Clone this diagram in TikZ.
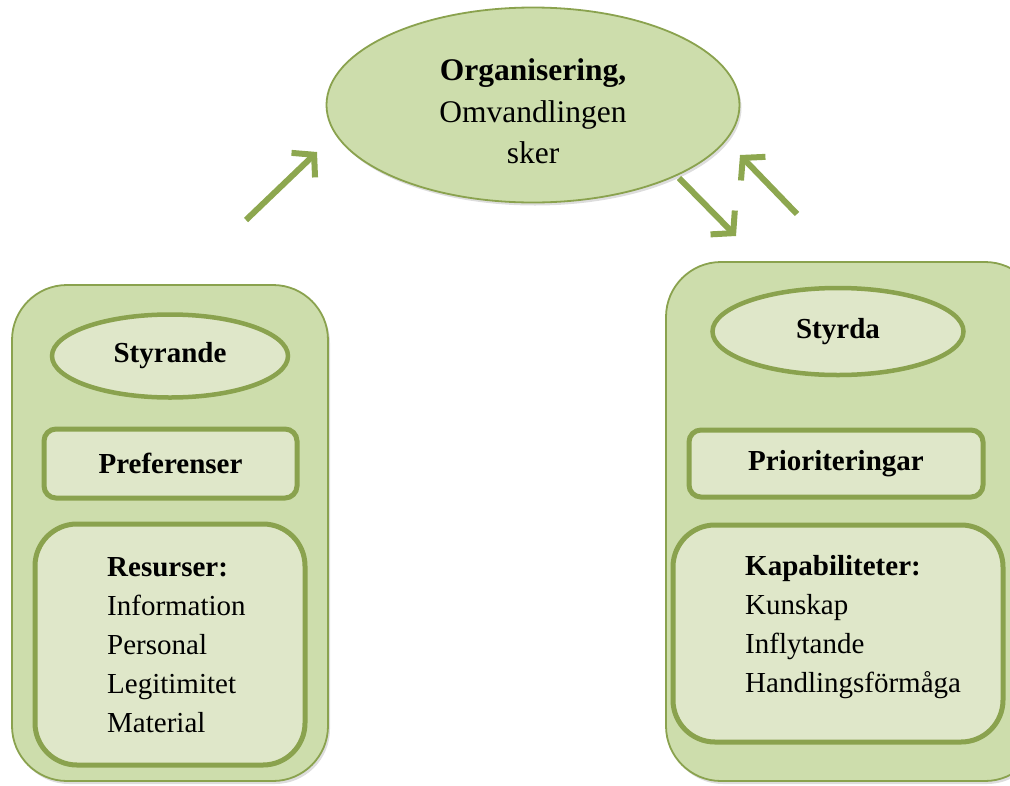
\documentclass[tikz,border=0pt]{standalone}
\usepackage{fontspec}
\setmainfont{Liberation Serif}
\usetikzlibrary{shapes.geometric,arrows.meta,shadows}
\definecolor{outerfill}{HTML}{CDDDAC}
\definecolor{innerfill}{HTML}{DFE7C9}
\definecolor{edgegreen}{HTML}{8AA24E}
\definecolor{arrowgreen}{HTML}{8DA74F}
\tikzset{
  softshadow/.style={drop shadow={shadow xshift=2pt, shadow yshift=-3pt, opacity=0.22, fill=black!60}},
  outerbox/.style={draw=edgegreen, line width=1.8pt, fill=outerfill, rounded corners=55pt, inner sep=0pt, softshadow},
  ellnode/.style={ellipse, draw=edgegreen, fill=innerfill, line width=4.5pt, inner sep=0pt},
  rectnode/.style={draw=edgegreen, fill=innerfill, line width=5pt, rounded corners=12pt, inner sep=0pt},
  listbox/.style={draw=edgegreen, fill=innerfill, line width=5pt, rounded corners=42pt, inner sep=0pt},
  bigarrow/.style={draw=arrowgreen, line width=6pt, -{Straight Barb[length=15pt,width=34pt,line width=6pt]}},
  txt/.style={font=\fontsize{29}{39}\selectfont, align=left, inner sep=0pt},
}
\begin{document}
\begin{tikzpicture}[x=1pt,y=-1pt]
\useasboundingbox (0,0) rectangle (1010,785);
\clip (0,0) rectangle (1010,785);
% top ellipse
\node[ellipse, draw=edgegreen, fill=outerfill, line width=1.8pt, minimum width=413pt, minimum height=195pt, inner sep=0pt, softshadow] (org) at (533,105) {};
\node[font=\fontsize{31.5}{41.5}\selectfont, align=center, inner sep=0pt, anchor=north] (orgtxt) at (533,58.5)
  {\textbf{Organisering,}\\Omvandlingen\\sker};
% left box
\node[outerbox, minimum width=316pt, minimum height=496pt] (leftbox) at (170,533) {};
\node[ellnode, minimum width=236pt, minimum height=83pt, font=\fontsize{29}{39}\selectfont\bfseries] (styrande) at (170,356) {Styrande};
\node[rectnode, minimum width=253pt, minimum height=69pt, font=\fontsize{29}{39}\selectfont\bfseries] (pref) at (170.5,463.5) {Preferenser};
\node[listbox, minimum width=270pt, minimum height=241pt] (resbox) at (170,644.5) {};
\node[txt, anchor=north west] (resurser) at (107,557) {\textbf{Resurser:}\\Information\\Personal\\Legitimitet\\Material};
% right box
\node[outerbox, minimum width=374pt, minimum height=519pt] (rightbox) at (853,521.5) {};
\node[ellnode, minimum width=251pt, minimum height=87pt, font=\fontsize{29}{39}\selectfont\bfseries] (styrda) at (838,331.5) {Styrda};
\node[rectnode, minimum width=294pt, minimum height=67pt, font=\fontsize{29}{39}\selectfont\bfseries] (prio) at (836,463.5) {Prioriteringar};
\node[listbox, minimum width=330pt, minimum height=217pt] (kapbox) at (838,633.5) {};
\node[txt, anchor=north west] (kap) at (745,555) {\textbf{Kapabiliteter:}\\Kunskap\\Inflytande\\Handlingsförmåga};
% arrows
\coordinate (a1s) at (246,220);
\coordinate (a1e) at (317,152);
\coordinate (a2s) at (679,178);
\coordinate (a2e) at (736,236);
\coordinate (a3s) at (797,214);
\coordinate (a3e) at (740,155);
\draw[bigarrow] (a1s) -- (a1e);
\draw[bigarrow] (a2s) -- (a2e);
\draw[bigarrow] (a3s) -- (a3e);
\end{tikzpicture}
\end{document}
